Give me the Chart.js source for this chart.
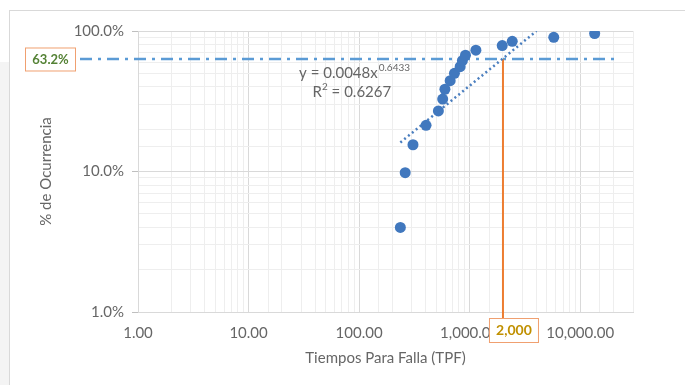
<!DOCTYPE html>
<html>
<head>
<meta charset="utf-8">
<script src="https://cdn.jsdelivr.net/npm/chart.js@4.4.1/dist/chart.umd.min.js"></script>
<style>
    html, body { margin: 0; padding: 0; background: #fff; }
    #wrap { position: relative; width: 685px; height: 385px; overflow: hidden; }
    #marco { position: absolute; left: 9px; top: 10px; right: 0; bottom: 0; border-top: 1px solid #d9d9d9; border-left: 1px solid #d9d9d9; }
    #franja { position: absolute; left: 0; top: 62px; width: 9px; bottom: 0; background: #f4f4f4; }
    canvas { position: absolute; left: 0; top: 0; }
</style>
</head>
<body>
<div id="wrap">
    <div id="franja"></div>
    <div id="marco"></div>
    <canvas id="chartWeibull" width="685" height="385"></canvas>
</div>
<script>
// Tiempos para falla (TPF) y % de ocurrencia
const tpf = [236, 261, 307, 403, 521, 570, 597, 666, 728, 820, 859, 916, 1138, 1969, 2426, 5760, 13500];
const ocurrencia = [4.0, 9.8, 15.5, 21.3, 27.0, 32.8, 38.5, 44.3, 50.0, 55.7, 61.5, 67.2, 73.0, 78.7, 84.5, 90.2, 96.0];

// Linea de tendencia potencial (extremos)
const tendenciaX = [236, 4020];
const tendenciaY = [16.1, 100];

const ticksX = [1, 10, 100, 1000, 10000];
const ticksY = [1, 10, 100];

const nivelCaracteristico = 63.2;
const tpfCaracteristico = 2000;
const textoNivel = '63.2%';
const textoTpf = '2,000';
const ecuacionBase = 'y = 0.0048x';
const ecuacionExp = '0.6433';
const textoR2 = '0.6267';

const fuente = 'Lato, "Open Sans", sans-serif';
const gris = '#666666';

const esDecada = (v) => Math.abs(Math.log10(v) - Math.round(Math.log10(v))) < 1e-9;

const colorGrid = (ctx) => {
    if (!ctx.tick) return '#eeeeee';
    return esDecada(ctx.tick.value) ? '#d9d9d9' : '#eeeeee';
};

const anotaciones = {
    id: 'anotaciones',
    beforeDatasetsDraw(chart) {
        const { ctx, chartArea, scales: { x, y } } = chart;
        const yNivel = y.getPixelForValue(nivelCaracteristico);
        const xTpf = x.getPixelForValue(tpfCaracteristico);
        ctx.save();
        ctx.strokeStyle = '#5b9bd5';
        ctx.lineWidth = 2.5;
        ctx.setLineDash([12, 6, 3, 6]);
        ctx.beginPath();
        ctx.moveTo(chartArea.left - 58, yNivel);
        ctx.lineTo(chartArea.right - 16, yNivel);
        ctx.stroke();

        ctx.setLineDash([]);
        ctx.strokeStyle = '#ed7d31';
        ctx.lineWidth = 2;
        ctx.beginPath();
        ctx.moveTo(xTpf, yNivel);
        ctx.lineTo(xTpf, chartArea.bottom + 6);
        ctx.stroke();
        ctx.restore();
    },
    afterDraw(chart) {
        const { ctx, chartArea, scales: { x, y } } = chart;
        const yNivel = y.getPixelForValue(nivelCaracteristico);
        const xTpf = x.getPixelForValue(tpfCaracteristico);
        ctx.save();

        // caja 63.2%
        let bx = chartArea.left - 113, by = yNivel - 11.5;
        ctx.fillStyle = '#fff';
        ctx.fillRect(bx, by, 50, 23);
        ctx.strokeStyle = '#f0a070';
        ctx.lineWidth = 1;
        ctx.strokeRect(bx + 0.5, by + 0.5, 50, 23);
        ctx.fillStyle = '#548235';
        ctx.font = 'bold 13px ' + fuente;
        ctx.textAlign = 'center';
        ctx.textBaseline = 'middle';
        ctx.fillText(textoNivel, bx + 25.5, by + 12);

        // caja 2,000
        bx = xTpf - 14; by = chartArea.bottom + 6;
        ctx.fillStyle = '#fff';
        ctx.fillRect(bx, by, 49, 24);
        ctx.strokeStyle = '#f0a070';
        ctx.strokeRect(bx + 0.5, by + 0.5, 49, 24);
        ctx.fillStyle = '#c09000';
        ctx.font = 'bold 14px ' + fuente;
        ctx.fillText(textoTpf, bx + 25, by + 12.5);

        // ecuacion de tendencia
        const ex = x.getPixelForValue(90), ey = y.getPixelForValue(50);
        ctx.font = '15px ' + fuente;
        const w1 = ctx.measureText(ecuacionBase).width;
        ctx.font = '10px ' + fuente;
        const w2 = ctx.measureText(ecuacionExp).width;
        let sx = ex - (w1 + w2) / 2;
        ctx.fillStyle = gris;
        ctx.textAlign = 'left';
        ctx.font = '15px ' + fuente;
        ctx.fillText(ecuacionBase, sx, ey);
        ctx.font = '10px ' + fuente;
        ctx.fillText(ecuacionExp, sx + w1 + 1, ey - 6);

        const rx = x.getPixelForValue(86), ry = y.getPixelForValue(36.6);
        ctx.font = '15px ' + fuente;
        const wr = ctx.measureText('R').width;
        const wr2 = ctx.measureText(' = ' + textoR2).width;
        ctx.font = '10px ' + fuente;
        const wsup = ctx.measureText('2').width;
        sx = rx - (wr + wsup + wr2) / 2;
        ctx.font = '15px ' + fuente;
        ctx.fillText('R', sx, ry);
        ctx.fillText(' = ' + textoR2, sx + wr + wsup, ry);
        ctx.font = '10px ' + fuente;
        ctx.fillText('2', sx + wr, ry - 6);
        ctx.restore();
    }
};

const canvas = document.getElementById('chartWeibull');
const ctx = canvas.getContext('2d');

const chartWeibull = new Chart(ctx, {
    type: 'scatter',
    data: {
        datasets: [{
            label: 'TPF',
            data: tpf.map((t, i) => ({ x: t, y: ocurrencia[i] })),
            backgroundColor: '#4178be',
            borderWidth: 0,
            pointRadius: 5.5,
            order: 1
        }, {
            label: 'Tendencia',
            data: tendenciaX.map((t, i) => ({ x: t, y: tendenciaY[i] })),
            showLine: true,
            borderColor: '#4a7ebf',
            borderWidth: 2.5,
            borderDash: [2, 3],
            pointRadius: 0,
            order: 2
        }]
    },
    options: {
        responsive: false,
        animation: false,
        devicePixelRatio: 1,
        layout: { padding: { left: 0, right: 52, top: 31, bottom: 13 } },
        plugins: { legend: { display: false }, tooltip: { enabled: false } },
        scales: {
            x: {
                type: 'logarithmic',
                min: 1,
                max: 30000,
                afterFit: (s) => { s.height = 60; },
                border: { display: true, color: '#d9d9d9' },
                grid: { color: colorGrid, drawTicks: false },
                ticks: {
                    autoSkip: false,
                    maxRotation: 0,
                    padding: 12,
                    color: gris,
                    font: { family: fuente, size: 15 },
                    callback: (v) => ticksX.some(t => Math.abs(t - v) < 1e-6)
                        ? Number(v).toLocaleString('en-US', { minimumFractionDigits: 2, maximumFractionDigits: 2 })
                        : ''
                },
                title: {
                    display: true,
                    text: 'Tiempos Para Falla (TPF)',
                    color: gris,
                    font: { family: fuente, size: 15 },
                    padding: { top: 0, bottom: 5 }
                }
            },
            y: {
                type: 'logarithmic',
                min: 1,
                max: 100,
                afterFit: (s) => { s.width = 138; },
                border: { display: true, color: '#d9d9d9' },
                grid: {
                    color: colorGrid,
                    tickLength: 6,
                    tickColor: (c) => (c.tick && esDecada(c.tick.value)) ? '#bfbfbf' : 'rgba(0,0,0,0)'
                },
                ticks: {
                    autoSkip: false,
                    padding: 8,
                    color: gris,
                    font: { family: fuente, size: 15 },
                    callback: (v) => ticksY.some(t => Math.abs(t - v) < 1e-6) ? Number(v).toFixed(1) + '%' : ''
                },
                title: {
                    display: true,
                    text: '% de Ocurrencia',
                    color: gris,
                    font: { family: fuente, size: 15 },
                    padding: { top: 37, bottom: 0 }
                }
            }
        }
    },
    plugins: [anotaciones]
});
</script>
</body>
</html>
